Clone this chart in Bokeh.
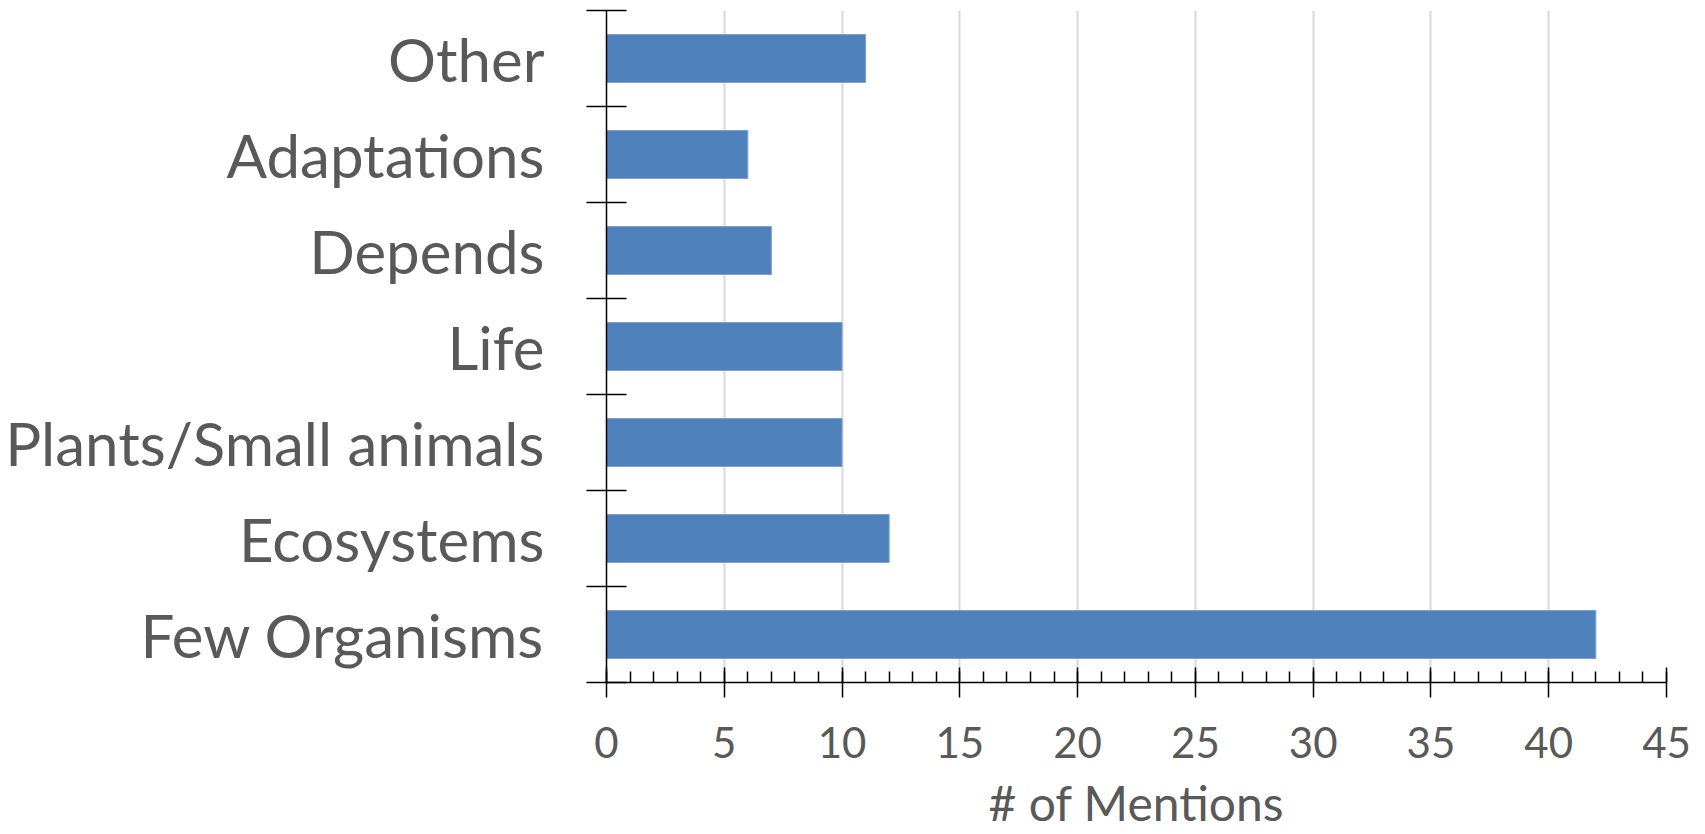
from bokeh.plotting import figure
from bokeh.models import Range1d, SingleIntervalTicker, FixedTicker, ColumnDataSource
from bokeh.embed import file_html
from bokeh.resources import INLINE

# Data (bottom to top)
categories = ["Few Organisms", "Ecosystems", "Plants/Small animals", "Life",
              "Depends", "Adaptations", "Other"]
mentions = [42, 12, 10, 10, 7, 6, 11]
x_ticks = [0, 5, 10, 15, 20, 25, 30, 35, 40, 45]
x_title = "# of Mentions"

positions = [i + 0.5 for i in range(len(categories))]
source = ColumnDataSource(dict(cat=categories, pos=positions, val=mentions))

TEXT = "#595959"
FONT = "Lato"

p = figure(width=1705, height=834, output_backend="svg", toolbar_location=None,
           x_range=Range1d(x_ticks[0], x_ticks[-1]),
           y_range=Range1d(0, len(categories)),
           min_border_left=606, min_border_right=39,
           min_border_top=10, min_border_bottom=152)
p.outline_line_color = None
p.background_fill_color = "white"
p.border_fill_color = "white"

p.hbar(y="pos", left=0, right="val", height=0.5, source=source,
       fill_color="#4F81BD", line_color="#7DA1CF", line_width=1)

# X axis
xa = p.xaxis[0]
xa.ticker = SingleIntervalTicker(interval=5, num_minor_ticks=5)
xa.axis_line_color = "black"
xa.axis_line_width = 1.5
xa.major_tick_line_color = "black"
xa.major_tick_line_width = 1.5
xa.major_tick_in = 15
xa.major_tick_out = 15
xa.minor_tick_line_color = "black"
xa.minor_tick_line_width = 1.5
xa.minor_tick_in = 11
xa.minor_tick_out = 0
xa.major_label_text_font = FONT
xa.major_label_text_font_size = "42px"
xa.major_label_text_color = TEXT
xa.major_label_standoff = 29
xa.axis_label = x_title
xa.axis_label_text_font = FONT
xa.axis_label_text_font_size = "48px"
xa.axis_label_text_font_style = "normal"
xa.axis_label_text_color = TEXT
xa.axis_label_standoff = 13

# Y axis: labels at category centres, ticks at boundaries
ya = p.yaxis[0]
ya.ticker = FixedTicker(ticks=positions, minor_ticks=list(range(len(categories) + 1)))
overrides = {}
for pos, c in zip(positions, categories):
    overrides[pos] = c
    overrides[str(pos)] = c
ya.major_label_overrides = overrides
ya.axis_line_color = "black"
ya.axis_line_width = 1.5
ya.major_tick_in = 0
ya.major_tick_out = 0
ya.minor_tick_line_color = "black"
ya.minor_tick_line_width = 1.5
ya.minor_tick_in = 20
ya.minor_tick_out = 20
ya.major_label_text_font = FONT
ya.major_label_text_font_size = "60px"
ya.major_label_text_color = TEXT
ya.major_label_standoff = 42

p.xgrid.grid_line_color = "#D9D9D9"
p.xgrid.grid_line_width = 2
p.ygrid.visible = False

open("out.html", "w").write(file_html(p, INLINE))
